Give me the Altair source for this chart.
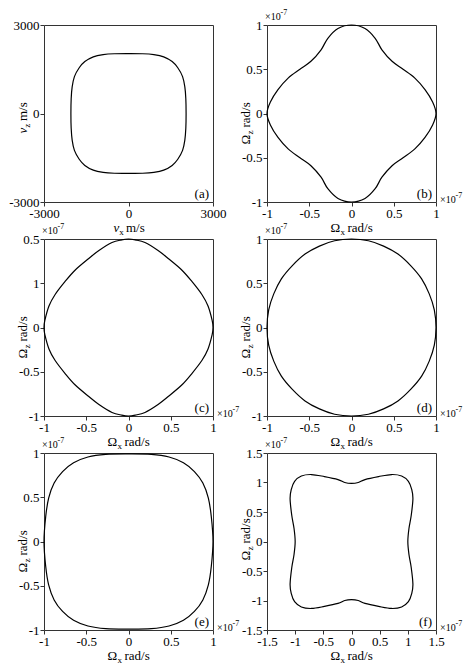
import altair as alt
import pandas as pd

FONT = "'Liberation Serif', 'Times New Roman', Times, serif"

# ---------------- data ----------------
# (a) velocity curve, m/s
a_x = [0, 500, 900, 1250, 1550, 1750, 1920, 2000, 2035, 2045,
       2035, 2000, 1920, 1750, 1550, 1250, 900, 500, 0,
       -500, -900, -1250, -1550, -1750, -1920, -2000, -2035, -2045,
       -2035, -2000, -1920, -1750, -1550, -1250, -900, -500]
a_y = [2030, 2025, 1995, 1920, 1760, 1550, 1250, 900, 500, 0,
       -500, -900, -1250, -1550, -1760, -1920, -1995, -2025, -2030,
       -2025, -1995, -1920, -1760, -1550, -1250, -900, -500, 0,
       500, 900, 1250, 1550, 1760, 1920, 1995, 2025]

# (b) angular velocity, x1e-7 rad/s
b_x = [0, 0.16, 0.28, 0.36, 0.48, 0.61, 0.75, 0.87, 0.96, 1.0,
       0.96, 0.87, 0.75, 0.61, 0.48, 0.36, 0.28, 0.16, 0,
       -0.16, -0.28, -0.36, -0.48, -0.61, -0.75, -0.87, -0.96, -1.0,
       -0.96, -0.87, -0.75, -0.61, -0.48, -0.36, -0.28, -0.16]
b_y = [1.0, 0.96, 0.85, 0.72, 0.59, 0.50, 0.40, 0.27, 0.13, 0,
       -0.13, -0.27, -0.40, -0.50, -0.59, -0.72, -0.85, -0.96, -1.0,
       -0.96, -0.85, -0.72, -0.59, -0.50, -0.40, -0.27, -0.13, 0,
       0.13, 0.27, 0.40, 0.50, 0.59, 0.72, 0.85, 0.96]

# (c)
c_x = [0, 0.08, 0.195, 0.35, 0.47, 0.63, 0.75, 0.87, 0.94, 0.99, 1.0,
       0.99, 0.94, 0.87, 0.75, 0.63, 0.47, 0.35, 0.195, 0.08, 0,
       -0.08, -0.195, -0.35, -0.47, -0.63, -0.75, -0.87, -0.94, -0.99, -1.0,
       -0.99, -0.94, -0.87, -0.75, -0.63, -0.47, -0.35, -0.195, -0.08]
c_y = [1.0, 0.99, 0.96, 0.87, 0.78, 0.65, 0.52, 0.37, 0.245, 0.08, 0,
       -0.08, -0.245, -0.37, -0.52, -0.65, -0.78, -0.87, -0.96, -0.99, -1.0,
       -0.99, -0.96, -0.87, -0.78, -0.65, -0.52, -0.37, -0.245, -0.08, 0,
       0.08, 0.245, 0.37, 0.52, 0.65, 0.78, 0.87, 0.96, 0.99]

# (d)
d_x = [0, 0.2, 0.38, 0.55, 0.7, 0.83, 0.92, 0.98, 1.0,
       0.98, 0.92, 0.83, 0.7, 0.55, 0.38, 0.2, 0,
       -0.2, -0.38, -0.55, -0.7, -0.83, -0.92, -0.98, -1.0,
       -0.98, -0.92, -0.83, -0.7, -0.55, -0.38, -0.2]
d_y = [1.0, 0.98, 0.92, 0.83, 0.7, 0.55, 0.38, 0.2, 0,
       -0.2, -0.38, -0.55, -0.7, -0.83, -0.92, -0.98, -1.0,
       -0.98, -0.92, -0.83, -0.7, -0.55, -0.38, -0.2, 0,
       0.2, 0.38, 0.55, 0.7, 0.83, 0.92, 0.98]

# (e)
e_x = [0, 0.27, 0.48, 0.65, 0.78, 0.88, 0.945, 0.98, 1.0,
       0.98, 0.945, 0.88, 0.78, 0.65, 0.48, 0.27, 0,
       -0.27, -0.48, -0.65, -0.78, -0.88, -0.945, -0.98, -1.0,
       -0.98, -0.945, -0.88, -0.78, -0.65, -0.48, -0.27]
e_y = [0.99, 0.985, 0.955, 0.89, 0.79, 0.66, 0.49, 0.28, 0,
       -0.28, -0.49, -0.66, -0.79, -0.89, -0.955, -0.985, -0.99,
       -0.985, -0.955, -0.89, -0.79, -0.66, -0.49, -0.28, 0,
       0.28, 0.49, 0.66, 0.79, 0.89, 0.955, 0.985]

# (f)
f_x = [0, 0.12, 0.24, 0.48, 0.71, 0.89, 1.01, 1.07, 1.09, 1.06, 1.02, 1.0,
       1.02, 1.06, 1.09, 1.07, 1.01, 0.89, 0.71, 0.48, 0.24, 0.12, 0,
       -0.12, -0.24, -0.48, -0.71, -0.89, -1.01, -1.07, -1.09, -1.06, -1.02, -1.0,
       -1.02, -1.06, -1.09, -1.07, -1.01, -0.89, -0.71, -0.48, -0.24, -0.12]
f_y = [0.985, 1.0, 1.05, 1.10, 1.135, 1.11, 1.02, 0.88, 0.72, 0.44, 0.22, 0,
       -0.22, -0.44, -0.72, -0.88, -1.02, -1.11, -1.135, -1.10, -1.05, -1.0, -0.985,
       -1.0, -1.05, -1.10, -1.135, -1.11, -1.02, -0.88, -0.72, -0.44, -0.22, 0,
       0.22, 0.44, 0.72, 0.88, 1.02, 1.11, 1.135, 1.10, 1.05, 1.0]

# tick values and labels
a_ticks = [-3000, 0, 3000]
a_labels = ["-3000", "0", "3000"]
om_ticks = [-1, -0.5, 0, 0.5, 1]
om_labels = ["-1", "-0.5", "0", "0.5", "1"]
c_y_labels = ["-1", "-0.5", "0", "1", "0.5"]
f_ticks = [-1.5, -1, -0.5, 0, 0.5, 1, 1.5]
f_labels = ["-1.5", "-1", "-0.5", "0", "0.5", "1", "1.5"]

panel_tags = ["(a)", "(b)", "(c)", "(d)", "(e)", "(f)"]
exponent = "-7"

# ---------------- layout constants ----------------
W, H = 169, 177
ONE = pd.DataFrame({"k": [0]})


def lab_expr(vals, labs):
    e = "''"
    for v, l in zip(reversed(vals), reversed(labs)):
        e = f"datum.value == {v} ? '{l}' : ({e})"
    return e


def txt(s, x, y, size=13, angle=0, style="normal", align="left"):
    return alt.Chart(ONE).mark_text(
        text=s, font=FONT, fontSize=size, fontStyle=style, angle=angle,
        align=align, baseline="alphabetic", color="black"
    ).encode(x=alt.value(x), y=alt.value(y))


def axis(vals, labs):
    return alt.Axis(values=vals, labelExpr=lab_expr(vals, labs), title=None,
                    grid=False, domain=False, ticks=True, tickSize=4,
                    tickColor="#333", labelFont=FONT, labelFontSize=13,
                    labelColor="black", labelPadding=1, labelFlush=False,
                    labelOverlap=False)


def panel(xs, ys, dom, xt, xl, yt, yl, tag, velocity=False, ycen=10):
    df = pd.DataFrame({"x": xs, "y": ys, "i": list(range(len(xs)))})
    line = alt.Chart(df).mark_line(
        color="black", strokeWidth=1.2, interpolate="cardinal-closed"
    ).encode(
        x=alt.X("x:Q", scale=alt.Scale(domain=dom, nice=False, zero=False), axis=axis(xt, xl)),
        y=alt.Y("y:Q", scale=alt.Scale(domain=dom, nice=False, zero=False), axis=axis(yt, yl)),
        order=alt.Order("i:Q"),
    )
    layers = [line, txt(tag, W - 4, H - 4, align="right")]
    tb = H + 30
    if velocity:
        x0 = W / 2 - 15
        layers += [txt("v", x0, tb, style="italic"),
                   txt("x", x0 + 5.8, tb + 3, size=9),
                   txt("m/s", x0 + 12.5, tb)]
        y0 = H / 2 + 20
        layers += [txt("v", -17, y0, angle=270, style="italic"),
                   txt("z", -14, y0 - 5.8, size=9, angle=270),
                   txt("m/s", -17, y0 - 12.5, angle=270)]
    else:
        x0 = W / 2 - 21
        layers += [txt("Ω", x0, tb),
                   txt("x", x0 + 10, tb + 3, size=9),
                   txt("rad/s", x0 + 17, tb)]
        y0 = H / 2 + ycen + 21
        layers += [txt("Ω", -17, y0, angle=270),
                   txt("z", -14, y0 - 10, size=9, angle=270),
                   txt("rad/s", -17, y0 - 17, angle=270)]
        layers += [txt("×10", -2, -5, size=10),
                   txt(exponent, 13.6, -10, size=8),
                   txt("×10", W + 4, H + 1, size=10),
                   txt(exponent, W + 19.6, H - 4, size=8)]
    return alt.layer(*layers).properties(width=W, height=H)


pa = panel(a_x, a_y, [-3000, 3000], a_ticks, a_labels, a_ticks, a_labels, panel_tags[0], velocity=True)
pb = panel(b_x, b_y, [-1, 1], om_ticks, om_labels, om_ticks, om_labels, panel_tags[1])
pc = panel(c_x, c_y, [-1, 1], om_ticks, om_labels, om_ticks, c_y_labels, panel_tags[2])
pd_ = panel(d_x, d_y, [-1, 1], om_ticks, om_labels, om_ticks, om_labels, panel_tags[3])
pe = panel(e_x, e_y, [-1, 1], om_ticks, om_labels, om_ticks, om_labels, panel_tags[4])
pf = panel(f_x, f_y, [-1.5, 1.5], f_ticks, f_labels, f_ticks, f_labels, panel_tags[5], ycen=-2)

chart = alt.concat(
    pa, pb, pc, pd_, pe, pf, columns=2,
    spacing={"row": 37, "column": 54}, bounds="flush"
).properties(
    padding={"left": 0, "top": 0, "right": 2, "bottom": 0}
).configure_view(stroke="#333", strokeWidth=1)

chart.save("out.html", embed_options={"renderer": "svg", "actions": False})
